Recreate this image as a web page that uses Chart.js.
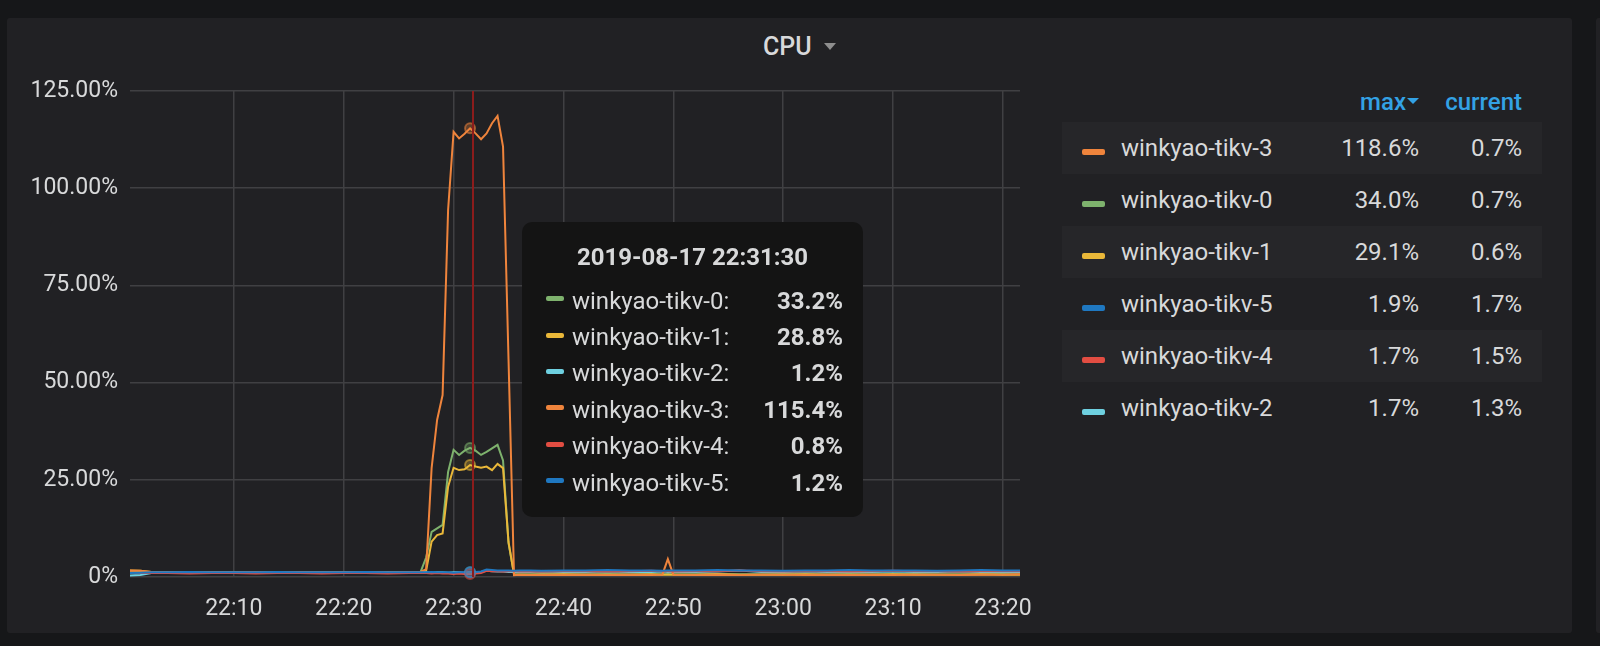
<!DOCTYPE html>
<html lang="en">

<head>
    <meta charset="UTF-8">
    <title>CPU</title>
    <script src="https://cdn.jsdelivr.net/npm/chart.js@4.4.0/dist/chart.umd.min.js"></script>
    <style>
        body {
            margin: 0;
            width: 1600px;
            height: 646px;
            background: #161719;
            overflow: hidden;
            font-family: Roboto, sans-serif;
            color: #d8d9da;
        }

        .panel {
            position: absolute;
            top: 18px;
            height: 615px;
            background: #212124;
            border-radius: 3px;
        }

        #chart {
            position: absolute;
            left: 7px;
            top: 55px;
        }

        .title {
            position: absolute;
            left: 763px;
            top: 32px;
            font-size: 25px;
            font-weight: 500;
            line-height: 30px;
            white-space: nowrap;
        }

        .caret {
            display: inline-block;
            width: 0;
            height: 0;
            border-left: 6px solid transparent;
            border-right: 6px solid transparent;
            border-top: 7px solid #8e8e8e;
            margin-left: 12px;
            vertical-align: 5px;
        }

        /* legend table on the right */
        .legend {
            position: absolute;
            left: 1062px;
            top: 87px;
            width: 480px;
            font-size: 24px;
        }

        .legend .head {
            position: relative;
            height: 35px;
            line-height: 30px;
            color: #33a2e5;
            font-weight: 500;
        }

        .legend .head span {
            position: absolute;
            top: 0;
        }

        .legend .head .caret {
            border-left-width: 6.5px;
            border-right-width: 6.5px;
            border-top: 6.5px solid #33a2e5;
            margin-left: 1px;
            vertical-align: 6px;
        }

        .legend .row {
            position: relative;
            height: 52px;
            line-height: 52px;
        }

        .legend .row.odd {
            background: #262629;
        }

        .row span, .tip-row span {
            position: absolute;
            top: 0;
            white-space: nowrap;
        }

        .swatch {
            position: absolute;
            border-radius: 2px;
        }

        /* hover tooltip */
        .tip {
            position: absolute;
            left: 522px;
            top: 222px;
            width: 341px;
            height: 295px;
            background: #141414;
            border-radius: 10px;
            font-size: 24px;
        }

        .tip-title {
            position: absolute;
            left: 0;
            right: 0;
            top: 20px;
            line-height: 30px;
            text-align: center;
            font-weight: 700;
        }

        .tip-row {
            position: absolute;
            left: 0;
            right: 0;
            height: 36.4px;
            line-height: 36.4px;
        }
    </style>
</head>

<body>
    <div class="panel" style="left:7px;width:1565px;"></div>
    <div class="panel" style="left:1596px;width:20px;"></div>
    <div class="title">CPU<span class="caret"></span></div>
    <canvas id="chart" width="1030" height="578"></canvas>
    <div class="legend" id="legend"></div>
    <div class="tip" id="tip"></div>

    <script>
        // series names and colours (grafana classic palette)
        const names = ['winkyao-tikv-0', 'winkyao-tikv-1', 'winkyao-tikv-2', 'winkyao-tikv-3', 'winkyao-tikv-4', 'winkyao-tikv-5'];
        const colors = ['#7eb26d', '#eab839', '#6ed0e0', '#ef843c', '#e24d42', '#1f78c1'];

        // sample times, minutes after 22:00 (30s steps around the burst)
        const times = [0.5, 1.5, 2.5, 4, 6, 8, 10, 12, 14, 16, 18, 20, 22, 24, 26,
            27, 27.5, 28, 28.5, 29, 29.5, 30, 30.5, 31, 31.5, 32, 32.5, 33, 33.5, 34, 34.5, 35, 35.5, 36,
            37, 38, 40, 42, 44, 46, 48, 49, 49.5, 50,
            52, 54, 56, 58, 60, 62, 64, 66, 68, 70, 72, 74, 76, 78, 80, 81.6];

        // cpu usage in %
        const tikv0 = [1.3, 1.3, 1.2, 1.2, 1.3, 1.2, 1.2, 1.3, 1.2, 1.3, 1.2, 1.2, 1.3, 1.2, 1.3,
            1.3, 5.0, 11.6, 12.5, 13.4, 27.0, 32.7, 31.4, 32.5, 33.2, 32.5, 31.4, 32.2, 33.1, 34.0, 30.0, 8.7, 0.8, 0.7,
            0.7, 0.8, 0.7, 0.7, 0.8, 0.7, 0.7, 0.7, 0.8, 0.7,
            0.7, 0.8, 0.7, 0.7, 0.8, 0.7, 0.7, 0.8, 0.7, 0.7, 0.8, 0.7, 0.7, 0.7, 0.8, 0.7];
        const tikv1 = [1.7, 1.6, 1.3, 1.2, 1.2, 1.3, 1.2, 1.2, 1.3, 1.2, 1.2, 1.3, 1.2, 1.2, 1.3,
            1.3, 1.6, 9.1, 10.8, 11.2, 23.2, 28.1, 27.5, 27.7, 28.8, 28.4, 28.1, 28.4, 27.5, 29.1, 28.0, 9.0, 0.6, 0.6,
            0.6, 0.6, 0.7, 0.6, 0.6, 0.6, 0.7, 0.6, 0.6, 0.6,
            0.6, 0.7, 0.6, 0.6, 0.6, 0.7, 0.6, 0.6, 0.6, 0.7, 0.6, 0.6, 0.6, 0.7, 0.6, 0.6];
        const tikv2 = [0.4, 0.5, 1.0, 1.2, 1.2, 1.1, 1.2, 1.2, 1.1, 1.2, 1.2, 1.1, 1.2, 1.2, 1.1,
            1.2, 1.2, 1.1, 1.2, 1.2, 1.1, 1.2, 1.2, 1.1, 1.2, 1.2, 1.3, 1.6, 1.5, 1.4, 1.4, 1.3, 1.3, 1.3,
            1.3, 1.4, 1.3, 1.3, 1.4, 1.3, 1.3, 1.4, 1.3, 1.3,
            1.3, 1.4, 1.7, 1.3, 1.3, 1.4, 1.3, 1.3, 1.3, 1.4, 1.3, 1.3, 1.4, 1.3, 1.3, 1.3];
        const tikv3 = [1.7, 1.6, 1.3, 1.2, 1.3, 1.2, 1.2, 1.3, 1.2, 1.3, 1.2, 1.2, 1.3, 1.2, 1.3,
            1.3, 2.0, 28.0, 40.4, 46.8, 94.4, 114.5, 112.8, 114.0, 115.4, 114.1, 112.6, 114.1, 116.7, 118.6, 110.7, 56.0, 0.5, 0.6,
            0.5, 0.6, 0.5, 0.6, 0.5, 0.6, 0.5, 0.6, 4.6, 0.6,
            0.5, 0.6, 0.5, 0.6, 0.6, 0.5, 0.6, 0.5, 0.6, 0.5, 0.6, 0.6, 0.5, 0.6, 0.6, 0.7];
        const tikv4 = [1.1, 1.0, 1.0, 1.0, 0.9, 1.0, 1.0, 0.9, 1.0, 1.0, 0.9, 1.0, 1.0, 0.9, 1.0,
            1.0, 1.0, 0.9, 1.0, 0.9, 0.9, 0.8, 0.9, 0.8, 0.8, 0.9, 1.0, 1.6, 1.5, 1.5, 1.4, 1.5, 1.5, 1.4,
            1.5, 1.4, 1.5, 1.5, 1.4, 1.5, 1.6, 1.5, 1.5, 1.4,
            1.5, 1.5, 1.7, 1.5, 1.4, 1.5, 1.5, 1.4, 1.5, 1.6, 1.5, 1.5, 1.4, 1.5, 1.5, 1.5];
        const tikv5 = [1.0, 1.1, 1.2, 1.2, 1.3, 1.2, 1.2, 1.2, 1.3, 1.2, 1.2, 1.2, 1.3, 1.2, 1.2,
            1.2, 1.2, 1.3, 1.2, 1.2, 1.2, 1.1, 1.2, 1.2, 1.2, 1.3, 1.4, 1.9, 1.8, 1.7, 1.7, 1.7, 1.6, 1.7,
            1.7, 1.6, 1.7, 1.7, 1.8, 1.7, 1.7, 1.6, 1.7, 1.7,
            1.7, 1.8, 1.7, 1.7, 1.6, 1.7, 1.7, 1.8, 1.7, 1.7, 1.7, 1.6, 1.7, 1.8, 1.7, 1.7];
        const series = [tikv0, tikv1, tikv2, tikv3, tikv4, tikv5];

        const xTicks = [10, 20, 30, 40, 50, 60, 70, 80];
        const yTicks = [0, 25, 50, 75, 100, 125];
        const day = '2019-08-17';
        const hoverTime = 31.5;    // point shown in the tooltip
        const cursorTime = 31.8;   // where the mouse is
        const legendOrder = [3, 0, 1, 5, 4, 2]; // sorted by max

        const hoverIdx = times.indexOf(hoverTime);

        function clock(m, withSec) {
            const h = 22 + Math.floor(m / 60);
            const mm = Math.floor(m % 60);
            const ss = Math.round((m - Math.floor(m)) * 60);
            let s = h + ':' + String(mm).padStart(2, '0');
            if (withSec) s += ':' + String(ss).padStart(2, '0');
            return s;
        }

        function alpha(hex, a) {
            const n = parseInt(hex.slice(1), 16);
            return 'rgba(' + (n >> 16) + ',' + ((n >> 8) & 255) + ',' + (n & 255) + ',' + a + ')';
        }

        // crosshair + hover markers
        const hoverPlugin = {
            id: 'hover',
            afterDatasetsDraw(chart) {
                const { ctx, chartArea, scales } = chart;
                ctx.save();
                const hx = scales.x.getPixelForValue(hoverTime);
                series.forEach((vals, i) => {
                    const y = scales.y.getPixelForValue(vals[hoverIdx]);
                    ctx.beginPath();
                    ctx.arc(hx, y, 5, 0, Math.PI * 2);
                    ctx.fillStyle = alpha(colors[i], 0.3);
                    ctx.fill();
                    ctx.lineWidth = 2;
                    ctx.strokeStyle = alpha(colors[i], 0.55);
                    ctx.stroke();
                });
                const cx = Math.round(scales.x.getPixelForValue(cursorTime));
                ctx.strokeStyle = '#8c1c1c';
                ctx.lineWidth = 2;
                ctx.beginPath();
                ctx.moveTo(cx, chartArea.top);
                ctx.lineTo(cx, chartArea.bottom);
                ctx.stroke();
                ctx.restore();
            }
        };

        Chart.defaults.font.family = 'Roboto';

        const ctx = document.getElementById('chart').getContext('2d');
        new Chart(ctx, {
            type: 'line',
            data: {
                datasets: series.map((vals, i) => ({
                    label: names[i],
                    data: vals.map((v, k) => ({ x: times[k], y: v })),
                    borderColor: colors[i],
                    backgroundColor: colors[i],
                    borderWidth: 2,
                    pointRadius: 0,
                    tension: 0,
                    fill: false,
                    order: 5 - i
                }))
            },
            options: {
                responsive: false,
                animation: false,
                events: [],
                layout: { padding: { top: 36, right: 17, bottom: 0, left: 0 } },
                plugins: {
                    legend: { display: false },
                    tooltip: { enabled: false }
                },
                scales: {
                    x: {
                        type: 'linear',
                        min: 0.55,
                        max: 81.55,
                        afterBuildTicks: s => { s.ticks = xTicks.map(v => ({ value: v })); },
                        // fixed height, and no extra side padding for the end labels
                        afterFit: s => { s.height = 56; s.paddingLeft = 0; s.paddingRight = 0; },
                        ticks: {
                            callback: v => clock(v, false),
                            color: '#d8d9da',
                            font: { size: 23 },
                            padding: 18,
                            maxRotation: 0,
                            autoSkip: false
                        },
                        grid: { color: '#404043', lineWidth: 1.5, drawTicks: false },
                        border: { display: false }
                    },
                    y: {
                        min: 0,
                        max: 125,
                        afterBuildTicks: s => { s.ticks = yTicks.map(v => ({ value: v })); },
                        afterFit: s => { s.width = 123; },
                        ticks: {
                            callback: v => v === 0 ? '0%' : v.toFixed(2) + '%',
                            color: '#d8d9da',
                            font: { size: 23 },
                            padding: 12
                        },
                        grid: { color: '#404043', lineWidth: 1.5, drawTicks: false },
                        border: { display: false }
                    }
                }
            },
            plugins: [hoverPlugin]
        });

        // legend table
        const fmt = v => v.toFixed(1) + '%';
        let html = '<div class="head"><span style="right:123px">max<span class="caret" style="position:static"></span></span>' +
            '<span style="right:20px">current</span></div>';
        legendOrder.forEach((i, r) => {
            const vals = series[i];
            html += '<div class="row' + (r % 2 === 0 ? ' odd' : '') + '">' +
                '<div class="swatch" style="left:20px;top:27px;width:23px;height:6px;background:' + colors[i] + '"></div>' +
                '<span style="left:59px">' + names[i] + '</span>' +
                '<span style="right:123px">' + fmt(Math.max(...vals)) + '</span>' +
                '<span style="right:20px">' + fmt(vals[vals.length - 1]) + '</span></div>';
        });
        document.getElementById('legend').innerHTML = html;

        // tooltip box
        let tip = '<div class="tip-title">' + day + ' ' + clock(hoverTime, true) + '</div>';
        series.forEach((vals, i) => {
            tip += '<div class="tip-row" style="top:' + (60.6 + i * 36.4) + 'px">' +
                '<div class="swatch" style="left:24px;top:13.5px;width:18px;height:5px;background:' + colors[i] + '"></div>' +
                '<span style="left:50px">' + names[i] + ':</span>' +
                '<span style="right:20px;font-weight:700">' + fmt(vals[hoverIdx]) + '</span></div>';
        });
        document.getElementById('tip').innerHTML = tip;
    </script>

</body>

</html>
